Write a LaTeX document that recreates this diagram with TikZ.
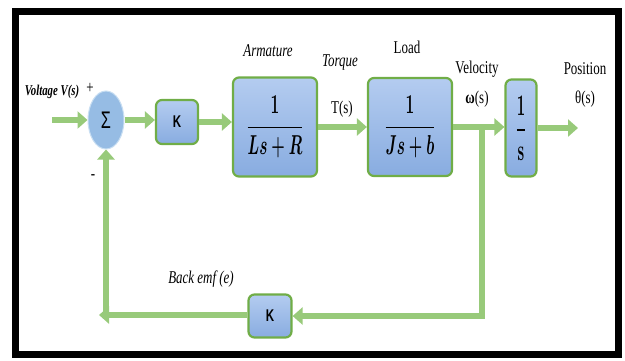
\documentclass[tikz,border=0pt]{standalone}
\usepackage{amsmath,amssymb}
\usepackage{graphicx}
\usepackage{fontspec}
\setmainfont{Liberation Serif}
\newfontfamily\labfont{Liberation Serif}[FakeStretch=0.72]
\newfontfamily\kfont{Liberation Sans}[FakeStretch=0.68]
\usepackage{tikz}
\usetikzlibrary{arrows.meta,shapes.geometric}
\definecolor{figframe}{RGB}{0,0,0}
\definecolor{figflow}{RGB}{152,202,122}
\definecolor{figedge}{RGB}{112,173,71}
\definecolor{figtop}{RGB}{180,204,240}
\definecolor{figbot}{RGB}{136,172,224}
\definecolor{figsum}{RGB}{150,188,228}
\definecolor{figsumedge}{RGB}{200,222,242}
\newcommand{\tallfrac}[4]{\scalebox{#1}[#2]{$\dfrac{#3}{#4}$}}
\tikzset{
  blk/.style ={draw=figedge, line width=2.2pt, rounded corners=6pt, top color=figtop, bottom color=figbot, inner sep=0pt},
  sumb/.style={ellipse, draw=figsumedge, line width=1pt, fill=figsum, inner sep=0pt, minimum width=36pt, minimum height=58pt},
  flow/.style={draw=figflow, line width=6.5pt, line cap=butt, -{Triangle[length=10pt,width=17pt]}},
  lab/.style ={font=\labfont\fontsize{18}{20}\selectfont, inner sep=1pt},
  labi/.style={font=\labfont\itshape\fontsize{18}{20}\selectfont, inner sep=1pt},
  fr/.style  ={font=\fontsize{23}{27}\selectfont\boldmath, inner sep=0pt},
  kl/.style  ={font=\kfont\bfseries\fontsize{17}{19}\selectfont, inner sep=0pt},
}
\begin{document}
\begin{tikzpicture}[x=1pt,y=-1pt]
  \useasboundingbox (0,0) rectangle (625,360);
  \draw[figframe,line width=7pt] (15.5,11) rectangle (618.5,354.5);

  \node[sumb] (sum) at (106,120) {};
  \node[kl,font=\kfont\fontsize{24}{26}\selectfont] at (sum) {Σ};
  \node[blk,minimum width=42pt,minimum height=44pt] (kfwd) at (177,122) {};
  \node[kl] at (kfwd) {K};
  \node[blk,minimum width=84pt,minimum height=99pt] (arm) at (275,127) {};
  \node[fr] at (arm) {\tallfrac{0.62}{1.1}{1}{Ls+R}};
  \node[blk,minimum width=84pt,minimum height=98pt] (load) at (410,127) {};
  \node[fr] at (load) {\tallfrac{0.62}{1.1}{1}{Js+b}};
  \node[blk,minimum width=31pt,minimum height=97pt] (integ) at (521,128) {};
  \node[fr,font=\fontsize{26}{30}\selectfont\boldmath] at (integ) {\tallfrac{0.6}{1.2}{1}{\mathbf{s}}};
  \node[blk,minimum width=43pt,minimum height=43pt] (kback) at (270,316) {};
  \node[kl] at (kback) {K};

  \coordinate (vin) at (52,120);
  \coordinate (br) at (482,127);
  \coordinate (pout) at (578,128);
  \coordinate (fbl) at (99,315);
  \coordinate (fbu) at (106,318.5);

  \draw[flow] (vin) -- (sum.west);
  \draw[flow] (sum.east) -- (kfwd.west |- sum.east);
  \draw[flow] (kfwd.east) -- (arm.west |- kfwd.east);
  \draw[flow] (arm.east) -- (load.west);
  \draw[flow] (load.east) -- (integ.west |- load.east);
  \draw[flow] (integ.east) -- (pout);
  \draw[flow] (br) |- (kback.east);
  \draw[flow] (kback.west |- fbl) -- (fbl);
  \draw[flow] (fbu) -- (sum.south);

  \node[lab,font=\labfont\bfseries\itshape\fontsize{15}{17}\selectfont] (vlab) at (52,92) {Voltage V(s)};
  \node[lab] (plus) at (90,88) {+};
  \node[lab] (minus) at (93,177) {-};
  \node[labi] (armlab) at (268,51) {Armature};
  \node[labi] (torlab) at (340,63) {Torque};
  \node[lab] (tlab) at (342,109) {T(s)};
  \node[lab] (loadlab) at (407,47) {Load};
  \node[lab] (vellab) at (477,69) {Velocity};
  \node[lab] (wlab) at (477,99) {\textbf{ω}(s)};
  \node[lab] (poslab) at (585,69) {Position};
  \node[lab] (thlab) at (585,99) {θ(s)};
  \node[labi] (emflab) at (201,279) {Back emf (e)};
\end{tikzpicture}
\end{document}
